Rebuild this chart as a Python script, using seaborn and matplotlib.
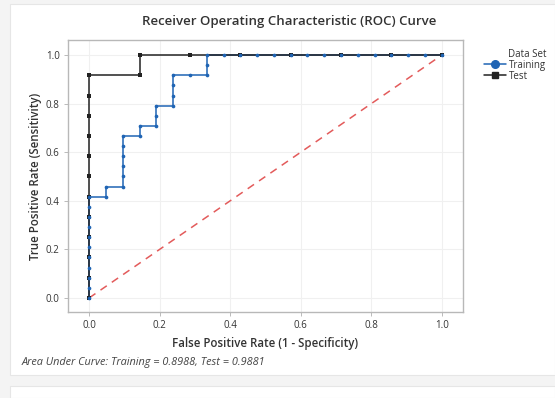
import matplotlib
matplotlib.use("Agg")
import matplotlib.pyplot as plt
import seaborn as sns
import pandas as pd
from matplotlib.patches import Rectangle
from matplotlib.lines import Line2D

# ---- data ----
train_fpr = [0.0, 0.0, 0.0, 0.0, 0.0, 0.0, 0.0, 0.0, 0.0, 0.0, 0.0,
             0.0476, 0.0476, 0.0952, 0.0952, 0.0952, 0.0952, 0.0952, 0.0952,
             0.1429, 0.1429, 0.1905, 0.1905, 0.1905, 0.2381, 0.2381, 0.2381, 0.2381,
             0.2857, 0.3333, 0.3333, 0.3333,
             0.3810, 0.4286, 0.4762, 0.5238, 0.5714, 0.6190, 0.6667, 0.7143,
             0.7619, 0.8095, 0.8571, 0.9048, 0.9524, 1.0]
train_tpr = [0.0, 0.0417, 0.0833, 0.125, 0.1667, 0.2083, 0.25, 0.2917, 0.3333, 0.375, 0.4167,
             0.4167, 0.4583, 0.4583, 0.5, 0.5417, 0.5833, 0.625, 0.6667,
             0.6667, 0.7083, 0.7083, 0.75, 0.7917, 0.7917, 0.8333, 0.875, 0.9167,
             0.9167, 0.9167, 0.9583, 1.0,
             1.0, 1.0, 1.0, 1.0, 1.0, 1.0, 1.0, 1.0,
             1.0, 1.0, 1.0, 1.0, 1.0, 1.0]
test_fpr = [0.0, 0.0, 0.0, 0.0, 0.0, 0.0, 0.0, 0.0, 0.0, 0.0, 0.0, 0.0,
            0.1429, 0.1429, 0.2857, 0.4286, 0.5714, 0.7143, 0.8571, 1.0]
test_tpr = [0.0, 0.0833, 0.1667, 0.25, 0.3333, 0.4167, 0.5, 0.5833, 0.6667, 0.75, 0.8333, 0.9167,
            0.9167, 1.0, 1.0, 1.0, 1.0, 1.0, 1.0, 1.0]
ref_line = [0.0, 1.0]
ticks = [0.0, 0.2, 0.4, 0.6, 0.8, 1.0]
tick_labels = ["0.0", "0.2", "0.4", "0.6", "0.8", "1.0"]
auc_train = 0.8988
auc_test = 0.9881

train_df = pd.DataFrame({"fpr": train_fpr, "tpr": train_tpr, "set": "Training"})
test_df = pd.DataFrame({"fpr": test_fpr, "tpr": test_tpr, "set": "Test"})

sns.set_theme(style="white")
plt.rcParams["font.family"] = ["Open Sans", "DejaVu Sans"]

fig = plt.figure(figsize=(5.55, 3.98), dpi=100)
fig.patch.set_facecolor("#f4f4f4")
fig.patches.append(Rectangle((10 / 555, 1 - 375 / 398), 545 / 555, 371 / 398,
                             transform=fig.transFigure, facecolor="white",
                             edgecolor="#e6e6e6", lw=0.8, zorder=-10))
fig.patches.append(Rectangle((10 / 555, 0), 545 / 555, 1 - 386 / 398,
                             transform=fig.transFigure, facecolor="white",
                             edgecolor="#e6e6e6", lw=0.8, zorder=-10))

ax = fig.add_axes([68 / 555, 1 - 312 / 398, (463 - 68) / 555, (312 - 40) / 398])
ax.set_zorder(5)
ax.set_facecolor("white")

blue = "#1f64b4"
ax.plot(ref_line, ref_line, color="#e35b5b", lw=1.1, ls=(0, (5, 4)), zorder=1)
sns.lineplot(data=train_df, x="fpr", y="tpr", drawstyle="steps-post", sort=False,
             color=blue, lw=1.1, ax=ax, zorder=2, legend=False, estimator=None)
sns.lineplot(data=test_df, x="fpr", y="tpr", drawstyle="steps-post", sort=False,
             color="#222222", lw=1.1, marker="s", markersize=3.5, markeredgewidth=0,
             ax=ax, zorder=3, legend=False, estimator=None)
sns.scatterplot(data=train_df, x="fpr", y="tpr", color=blue, s=7, linewidth=0,
                ax=ax, zorder=4, legend=False)

ax.set_xlim(-0.06, 1.06)
ax.set_ylim(-0.058, 1.062)
ax.set_xticks(ticks)
ax.set_xticklabels(tick_labels)
ax.set_yticks(ticks)
ax.set_yticklabels(tick_labels)
ax.grid(True, color="#f0f0f0", lw=0.8)
ax.set_axisbelow(True)
for s in ax.spines.values():
    s.set_color("#b8b8b8")
    s.set_linewidth(1.0)
ax.tick_params(axis="both", labelsize=7, colors="#333333", length=3, width=0.6,
               color="#b0b0b0", pad=3, direction="out", bottom=True, left=True)
ax.set_xlabel("False Positive Rate (1 - Specificity)", fontsize=8.3,
              fontweight="semibold", color="#333333", labelpad=4)
ax.set_ylabel("True Positive Rate (Sensitivity)", fontsize=8.3,
              fontweight="semibold", color="#333333", labelpad=3)
fig.text(289 / 555, 1 - 22 / 398, "Receiver Operating Characteristic (ROC) Curve",
         ha="center", va="center", fontsize=9.5, fontweight="semibold", color="#333333")

handles = [Line2D([], [], color=blue, lw=1.1, marker="o", markersize=5.5),
           Line2D([], [], color="#222222", lw=1.1, marker="s", markersize=3.8)]
leg = fig.legend(handles, ["Training", "Test"], title="Data Set",
                 loc="upper left", bbox_to_anchor=(478 / 555, 1 - 43 / 398),
                 frameon=False, fontsize=7, title_fontsize=7,
                 handlelength=2.3, handletextpad=0.3, labelspacing=0.0,
                 borderpad=0.1, alignment="right")
for t in leg.get_texts():
    t.set_color("#333333")
leg.get_title().set_color("#333333")

fig.text(22 / 555, 1 - 363 / 398,
         f"Area Under Curve: Training = {auc_train:.4f}, Test = {auc_test:.4f}",
         ha="left", va="center", fontsize=7.8, style="italic", color="#444444")

fig.savefig("out.png", dpi=100, facecolor=fig.get_facecolor())
